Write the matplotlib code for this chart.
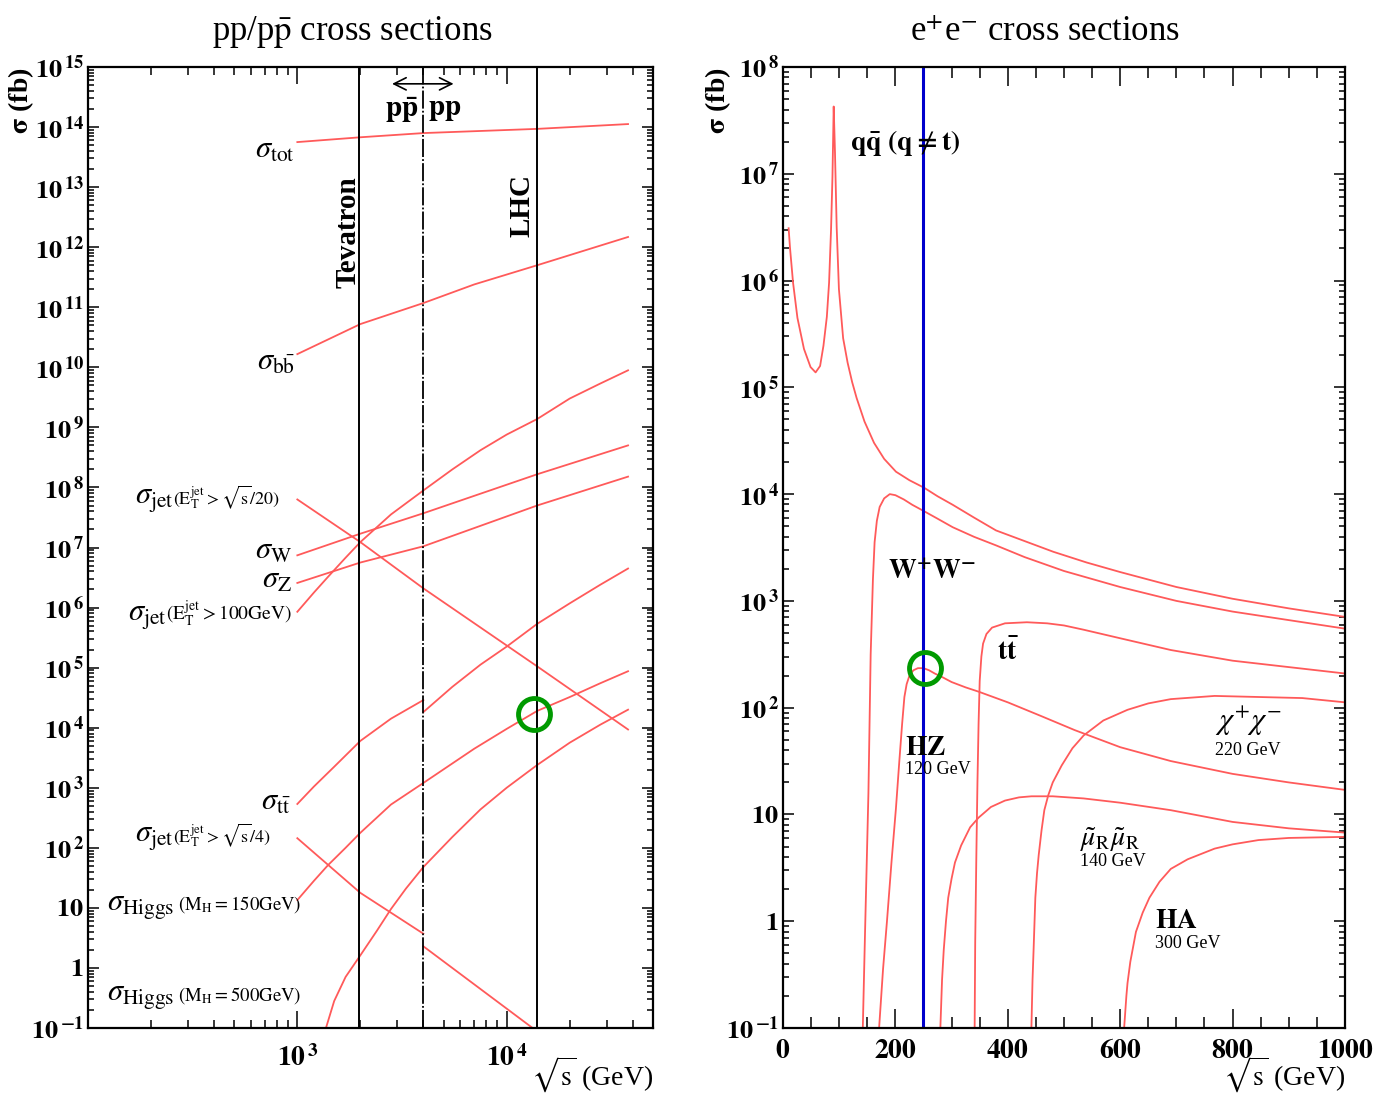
import numpy as np
import matplotlib
matplotlib.use("Agg")
import matplotlib.pyplot as plt
from matplotlib.ticker import (LogLocator, MultipleLocator, FixedLocator, FuncFormatter,
                               NullFormatter)

plt.rcParams['font.family'] = ['Liberation Serif', 'DejaVu Serif']
plt.rcParams['mathtext.fontset'] = 'stix'

RED = '#ff5a5a'
GREEN = '#009a00'

# ---------------- pp / ppbar : sqrt(s) [GeV], log10(sigma [fb]) ----------------
tot_rs = [1000, 2000, 4000, 14000, 38000]
tot_lg = [13.75, 13.83, 13.90, 13.97, 14.05]

bb_rs = [1000, 2000, 4000, 7000, 14000, 38000]
bb_lg = [10.22, 10.72, 11.07, 11.38, 11.70, 12.17]

jet100_rs = [1000, 1200, 1400, 1700, 2000, 2800, 4000, 5500, 7500, 10000, 14000, 20000, 28000, 38000]
jet100_lg = [5.93, 6.25, 6.51, 6.83, 7.09, 7.55, 7.95, 8.30, 8.62, 8.88, 9.14, 9.48, 9.73, 9.95]

w_rs = [1000, 2000, 4000, 14000, 38000]
w_lg = [6.87, 7.23, 7.57, 8.22, 8.70]

z_rs = [1000, 2000, 4000, 14000, 38000]
z_lg = [6.41, 6.75, 7.02, 7.70, 8.18]

jet20_rs = [1000, 2000, 4000, 14000, 38000]
jet20_lg = [7.80, 7.09, 6.32, 5.02, 3.97]

tt_ppbar_rs = [1000, 1200, 1500, 2000, 2800, 4000]
tt_ppbar_lg = [2.73, 3.02, 3.35, 3.78, 4.15, 4.46]
tt_pp_rs = [4000, 5500, 7500, 10000, 14000, 20000, 28000, 38000]
tt_pp_lg = [4.26, 4.68, 5.05, 5.35, 5.73, 6.07, 6.38, 6.65]

h150_rs = [1000, 1200, 1400, 1700, 2000, 2800, 4000, 7000, 10000, 14000, 20000, 28000, 38000]
h150_lg = [1.13, 1.45, 1.71, 2.00, 2.25, 2.72, 3.08, 3.65, 3.98, 4.28, 4.51, 4.74, 4.94]

jet4_ppbar_rs = [1000, 2000, 4000]
jet4_ppbar_lg = [2.16, 1.25, 0.57]
jet4_pp_rs = [4000, 13300]
jet4_pp_lg = [0.36, -1.0]

h500_rs = [1370, 1500, 1700, 2000, 2400, 2800, 3300, 4000, 5500, 7500, 10000, 14000, 20000, 28000, 38000]
h500_lg = [-1.0, -0.55, -0.15, 0.21, 0.62, 0.98, 1.32, 1.68, 2.18, 2.64, 3.00, 3.38, 3.75, 4.05, 4.30]

pp_curves = [(tot_rs, tot_lg), (bb_rs, bb_lg), (jet100_rs, jet100_lg), (w_rs, w_lg),
             (z_rs, z_lg), (jet20_rs, jet20_lg), (tt_ppbar_rs, tt_ppbar_lg),
             (tt_pp_rs, tt_pp_lg), (h150_rs, h150_lg), (jet4_ppbar_rs, jet4_ppbar_lg),
             (jet4_pp_rs, jet4_pp_lg), (h500_rs, h500_lg)]

tevatron_rs = 1960
switch_rs = 4000
lhc_rs = 14000

# ---------------- e+e- : sqrt(s) [GeV], log10(sigma [fb]) ----------------
qq_rs = [10, 12.4, 17.9, 25.7, 37.3, 49, 58, 66, 72, 78, 82, 85.5, 88, 89.4, 90.2,
         92.5, 95.5, 99.5, 107, 115, 123, 131, 145, 162, 180, 201, 225, 251, 275, 302,
         340, 379, 430, 481, 540, 600, 700, 800, 900, 1000]
qq_lg = [6.49, 6.31, 5.98, 5.65, 5.36, 5.19, 5.14, 5.20, 5.39, 5.66, 5.98, 6.48, 6.97,
         7.39, 7.63, 7.20, 6.50, 5.92, 5.46, 5.23, 5.05, 4.90, 4.68, 4.48, 4.33, 4.21,
         4.13, 4.06, 3.98, 3.90, 3.78, 3.66, 3.56, 3.46, 3.36, 3.27, 3.13, 3.02, 2.93, 2.85]

ww_rs = [142, 146, 152, 156, 160, 163, 167, 172, 180, 190, 200, 215, 230, 251, 275, 302,
         340, 379, 430, 500, 600, 700, 800, 900, 1000]
ww_lg = [-1.0, -0.10, 1.20, 2.50, 3.20, 3.55, 3.75, 3.88, 3.96, 4.00, 3.99, 3.95, 3.90,
         3.84, 3.77, 3.69, 3.60, 3.52, 3.41, 3.28, 3.13, 3.00, 2.90, 2.82, 2.74]

hz_rs = [171, 178, 185, 193, 201, 207, 212, 216, 220, 225, 232, 240, 250, 260, 270, 282,
         300, 325, 348, 400, 460, 519, 600, 690, 800, 900, 1000]
hz_lg = [-1.0, -0.45, 0.0, 0.55, 1.06, 1.50, 1.85, 2.10, 2.22, 2.30, 2.35, 2.37, 2.37,
         2.35, 2.32, 2.29, 2.24, 2.19, 2.15, 2.05, 1.92, 1.79, 1.63, 1.50, 1.38, 1.30, 1.23]

tt_rs = [341, 342, 344, 346, 348, 350, 353, 356, 362, 372, 395, 434, 470, 500, 535, 600,
         690, 800, 900, 1000]
tt_lg = [-1.0, -0.2, 0.6, 1.3, 1.85, 2.25, 2.48, 2.60, 2.69, 2.75, 2.79, 2.80, 2.79, 2.77,
         2.73, 2.65, 2.54, 2.44, 2.38, 2.32]

mumu_rs = [280, 283, 286, 290, 294, 300, 306, 317, 333, 348, 370, 395, 420, 442, 480, 535,
           600, 690, 800, 900, 1000]
mumu_lg = [-1.0, -0.55, -0.27, 0.0, 0.22, 0.40, 0.55, 0.71, 0.88, 0.97, 1.07, 1.13, 1.16,
           1.17, 1.17, 1.15, 1.11, 1.04, 0.93, 0.87, 0.83]

chi_rs = [442, 444, 446, 449, 452, 455, 460, 465, 472, 480, 496, 515, 535, 570, 613, 650,
          690, 768, 846, 924, 1000]
chi_lg = [-1.0, -0.55, -0.25, 0.22, 0.45, 0.62, 0.85, 1.04, 1.18, 1.30, 1.46, 1.62, 1.74,
          1.88, 1.98, 2.04, 2.08, 2.11, 2.10, 2.09, 2.05]

ha_rs = [607, 609, 611, 613, 618, 628, 640, 652, 670, 690, 720, 768, 800, 846, 900, 1000]
ha_lg = [-1.0, -0.85, -0.70, -0.58, -0.38, -0.10, 0.08, 0.22, 0.37, 0.49, 0.58, 0.68,
         0.72, 0.76, 0.78, 0.79]

ee_curves = [(qq_rs, qq_lg), (ww_rs, ww_lg), (hz_rs, hz_lg), (tt_rs, tt_lg),
             (mumu_rs, mumu_lg), (chi_rs, chi_lg), (ha_rs, ha_lg)]

ilc_rs = 250

# highlighted points (green rings)
ring_pp = (13500, 10 ** 4.23)
ring_ee = (252, 10 ** 2.37)

pp_decades = [10.0 ** n for n in range(-1, 16)]
ee_decades = [10.0 ** n for n in range(-1, 9)]


def pow_label(v, pos):
    n = int(round(np.log10(v)))
    if n == 0:
        return r'$\mathbf{1}$'
    if n == 1:
        return r'$\mathbf{10}$'
    return r'$\mathbf{10}^{\,\mathbf{%d}}$' % n


def two_part(a, x, y, big, small, small_size):
    t = a.text(x, y, big, fontsize=22, ha='left', va='center')
    a.annotate(small, xy=(1.0, 0.6), xycoords=t, fontsize=small_size, ha='left', va='center')


fig = plt.figure(figsize=(13.76, 10.96), dpi=100)

# =============================== left panel ===============================
ax = fig.add_axes([0.06395, 0.06204, 0.41061, 0.87682])
ax.set_xscale('log')
ax.set_yscale('log')
ax.set_xlim(100, 50000)
ax.set_ylim(0.1, 1e15)

for rs, lg in pp_curves:
    ax.plot(rs, 10 ** np.array(lg), color=RED, lw=1.3)

ax.axvline(tevatron_rs, color='black', lw=1.4)
ax.axvline(lhc_rs, color='black', lw=1.4)
ax.axvline(switch_rs, color='black', lw=1.3, linestyle=(0, (10, 1.2, 1, 1.2)))
ax.plot([ring_pp[0]], [ring_pp[1]], 'o', ms=23, mfc='none', mec=GREEN, mew=3.5)

ax.annotate('', xy=(2750, 10 ** 14.72), xytext=(5750, 10 ** 14.72),
            arrowprops=dict(arrowstyle='<->', lw=1.2, color='black', mutation_scale=22))
ax.text(3150, 10 ** 14.28, r'$\mathbf{p\bar{p}}$', fontsize=21, ha='center', va='center')
ax.text(5050, 10 ** 14.28, r'$\mathbf{pp}$', fontsize=21, ha='center', va='center')
ax.text(1745, 10 ** 12.25, 'Tevatron', rotation=90, fontsize=21, fontweight='bold',
        ha='center', va='center')
ax.text(11780, 10 ** 12.70, 'LHC', rotation=90, fontsize=21, fontweight='bold',
        ha='center', va='center')

# curve labels
ax.text(975, 10 ** 13.62, r'$\sigma_{\rm tot}$', fontsize=22, ha='right', va='center')
ax.text(975, 10 ** 10.09, r'$\sigma_{\rm b\bar{b}}$', fontsize=22, ha='right', va='center')
two_part(ax, 167, 10 ** 7.79, r'$\sigma_{\rm jet}$',
         r'$({\rm E}_{\rm T}^{\rm jet} > \sqrt{\rm s}/20)$', 13)
ax.text(945, 10 ** 6.94, r'$\sigma_{\rm W}$', fontsize=22, ha='right', va='center')
ax.text(945, 10 ** 6.46, r'$\sigma_{\rm Z}$', fontsize=22, ha='right', va='center')
two_part(ax, 155, 10 ** 5.84, r'$\sigma_{\rm jet}$',
         r'$({\rm E}_{\rm T}^{\rm jet} > 100{\rm GeV})$', 14)
ax.text(930, 10 ** 2.75, r'$\sigma_{\rm t\bar{t}}$', fontsize=22, ha='right', va='center')
two_part(ax, 167, 10 ** 2.16, r'$\sigma_{\rm jet}$',
         r'$({\rm E}_{\rm T}^{\rm jet} > \sqrt{\rm s}/4)$', 13)
two_part(ax, 123, 10 ** 1.01, r'$\sigma_{\rm Higgs}$',
         r'$\ ({\rm M}_{\rm H}{=}150{\rm GeV})$', 13.5)
two_part(ax, 123, 10 ** -0.50, r'$\sigma_{\rm Higgs}$',
         r'$\ ({\rm M}_{\rm H}{=}500{\rm GeV})$', 13.5)

ax.xaxis.set_major_locator(FixedLocator([100, 1000, 10000]))
ax.xaxis.set_minor_locator(LogLocator(base=10, subs=range(2, 10), numticks=20))
ax.xaxis.set_major_formatter(FuncFormatter(lambda v, p: '' if v < 500 else pow_label(v, p)))
ax.xaxis.set_minor_formatter(NullFormatter())
ax.yaxis.set_major_locator(FixedLocator(pp_decades))
ax.yaxis.set_minor_locator(LogLocator(base=10, subs=range(2, 10), numticks=40))
ax.yaxis.set_major_formatter(FuncFormatter(pow_label))
ax.yaxis.set_minor_formatter(NullFormatter())
ax.tick_params(which='both', direction='in', top=True, right=True, width=1.1, labelsize=19)
ax.tick_params(axis='x', which='major', length=12, pad=12, labelsize=20)
ax.tick_params(axis='x', which='minor', length=6)
ax.tick_params(axis='y', which='major', length=8, pad=3)
ax.tick_params(axis='y', which='minor', length=4)
for s in ax.spines.values():
    s.set_linewidth(1.6)
ax.text(1.0, -0.049, r'$\sqrt{\rm s}$ (GeV)', transform=ax.transAxes, fontsize=20,
        ha='right', va='center')
ax.text(-0.118, 0.965, r'$\mathbf{\sigma}$ (fb)', transform=ax.transAxes, fontsize=20,
        fontweight='bold', rotation=90, ha='center', va='center')
fig.text(0.2558, 0.9708, r'pp/p$\bar{\rm p}$ cross sections', fontsize=25,
         ha='center', va='center')

# =============================== right panel ===============================
bx = fig.add_axes([0.56904, 0.06204, 0.40843, 0.87682])
bx.set_yscale('log')
bx.set_xlim(0, 1000)
bx.set_ylim(0.1, 1e8)

for rs, lg in ee_curves:
    bx.plot(rs, 10 ** np.array(lg), color=RED, lw=1.3)

bx.axvline(ilc_rs, color='#0000cc', lw=2.2)
bx.plot([ring_ee[0]], [ring_ee[1]], 'o', ms=23, mfc='none', mec=GREEN, mew=3.5)

bx.text(119, 10 ** 7.29, r'$\mathbf{q\bar{q}\ (q{\neq}t)}$', fontsize=20, ha='left', va='center')
bx.text(187, 10 ** 3.27, r'$\mathbf{W^{+}W^{-}}$', fontsize=20, ha='left', va='center')
bx.text(381, 10 ** 2.52, r'$\mathbf{t\bar{t}}$', fontsize=20, ha='left', va='center')
bx.text(217, 10 ** 1.62, r'$\mathbf{HZ}$', fontsize=20, ha='left', va='center')
bx.text(217, 10 ** 1.42, '120 GeV', fontsize=13, ha='left', va='center')
bx.text(769, 10 ** 1.87, r'$\chi^{+}\chi^{-}$', fontsize=22, ha='left', va='center')
bx.text(769, 10 ** 1.60, '220 GeV', fontsize=13, ha='left', va='center')
bx.text(528, 10 ** 0.76, r'$\tilde{\mu}_{\rm R}\tilde{\mu}_{\rm R}$', fontsize=20,
        ha='left', va='center')
bx.text(528, 10 ** 0.56, '140 GeV', fontsize=13, ha='left', va='center')
bx.text(662, 10 ** 0.0, r'$\mathbf{HA}$', fontsize=20, ha='left', va='center')
bx.text(662, 10 ** -0.21, '300 GeV', fontsize=13, ha='left', va='center')

bx.xaxis.set_major_locator(MultipleLocator(200))
bx.xaxis.set_minor_locator(MultipleLocator(50))
bx.xaxis.set_major_formatter(FuncFormatter(lambda v, p: r'$\mathbf{%d}$' % v))
bx.yaxis.set_major_locator(FixedLocator(ee_decades))
bx.yaxis.set_minor_locator(LogLocator(base=10, subs=range(2, 10), numticks=20))
bx.yaxis.set_major_formatter(FuncFormatter(pow_label))
bx.yaxis.set_minor_formatter(NullFormatter())
bx.tick_params(which='both', direction='in', top=True, right=True, width=1.1, labelsize=19)
bx.tick_params(axis='x', which='major', length=14, pad=8, labelsize=20)
bx.tick_params(axis='x', which='minor', length=8)
bx.tick_params(axis='y', which='major', length=8, pad=3)
bx.tick_params(axis='y', which='minor', length=4)
for s in bx.spines.values():
    s.set_linewidth(1.6)
bx.text(1.0, -0.049, r'$\sqrt{\rm s}$ (GeV)', transform=bx.transAxes, fontsize=20,
        ha='right', va='center')
bx.text(-0.115, 0.965, r'$\mathbf{\sigma}$ (fb)', transform=bx.transAxes, fontsize=20,
        fontweight='bold', rotation=90, ha='center', va='center')
fig.text(0.7594, 0.9708, r'e$^{+}$e$^{-}$ cross sections', fontsize=25,
         ha='center', va='center')

fig.savefig('out.png', dpi=100)
